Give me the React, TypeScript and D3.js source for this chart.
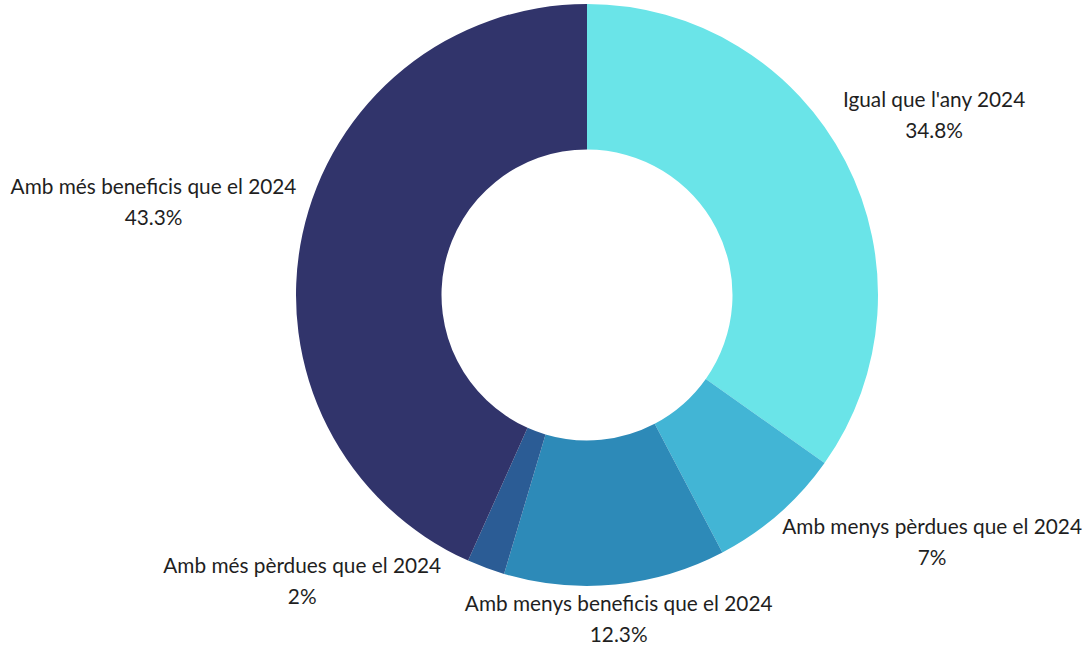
import React, { useMemo } from 'react';
import * as d3 from 'd3';

const categories = [
  "Igual que l'any 2024",
  'Amb menys pèrdues que el 2024',
  'Amb menys beneficis que el 2024',
  'Amb més pèrdues que el 2024',
  'Amb més beneficis que el 2024',
];
const values = [34.8, 7.5, 12.3, 2.1, 43.3];
const valueLabels = ['34.8%', '7%', '12.3%', '2%', '43.3%'];
const colors = ['#6ae4e8', '#42b5d5', '#2d8ab8', '#2b5c95', '#31346b'];

const W = 1084;
const H = 652;
const CX = 587;
const CY = 295;
const R = 291;
const R_IN = 145.5;
const FONT_SIZE = 20.8;
const FONT = `${FONT_SIZE}px Lato, "Noto Sans", sans-serif`;
const LINE = 31;
const BOX_H = 53;
const GAP = 7;
const PAD = 22;
const EDGE = 2;

function measure(text: string): number {
  const c = document.createElement('canvas');
  const ctx = c.getContext('2d')!;
  ctx.font = FONT;
  return ctx.measureText(text).width;
}

function boxAt(angle: number, w: number, h: number, dist: number) {
  const dx = Math.sin(angle);
  const dy = -Math.cos(angle);
  let lo = 0;
  let hi = 3000;
  for (let i = 0; i < 60; i++) {
    const mid = (lo + hi) / 2;
    const bx = mid * dx;
    const by = mid * dy;
    const nx = Math.max(Math.abs(bx) - w / 2, 0);
    const ny = Math.max(Math.abs(by) - h / 2, 0);
    if (Math.hypot(nx, ny) < dist) lo = mid;
    else hi = mid;
  }
  let x = CX + hi * dx;
  const y = CY + hi * dy;
  x = Math.min(Math.max(x, w / 2 + EDGE), W - w / 2 - EDGE);
  return { x, y, w, h };
}

type Box = { x: number; y: number; w: number; h: number };
function overlaps(a: Box, b: Box) {
  return (
    Math.abs(a.x - b.x) < (a.w + b.w) / 2 + PAD &&
    Math.abs(a.y - b.y) < (a.h + b.h) / 2 + PAD
  );
}

export default function App() {
  const data = categories.map((c, i) => ({ name: c, value: values[i], label: valueLabels[i], color: colors[i] }));
  const arcs = d3
    .pie<any>()
    .sort(null)
    .value((d) => d.value)(data);
  const arcGen = d3.arc<any>().innerRadius(R_IN).outerRadius(R);

  const labels = useMemo(() => {
    const out: (Box & { i: number; angle: number })[] = [];
    const order = d3.range(arcs.length).sort((a, b) => values[b] - values[a]);
    for (const i of order) {
      const a = arcs[i];
      const mid = (a.startAngle + a.endAngle) / 2;
      const w = Math.max(measure(categories[i]), measure(valueLabels[i]));
      let angle = mid;
      let box = boxAt(angle, w, BOX_H, R + GAP);
      for (let k = 0; k < 400; k++) {
        const hit = out.find((o) => overlaps(o, box));
        if (!hit) break;
        const dir = Math.sign(mid - hit.angle) || 1;
        angle += dir * (0.5 * Math.PI) / 180;
        box = boxAt(angle, w, BOX_H, R + GAP);
      }
      out.push({ ...box, i, angle });
    }
    return out;
  }, []);

  return (
    <svg
      width={W}
      height={H}
      style={{ position: 'absolute', left: 0, top: 0, display: 'block', background: '#fff' }}
    >
      <g transform={`translate(${CX},${CY})`}>
        {arcs.map((a, i) => (
          <path key={i} d={arcGen(a) as string} fill={a.data.color} />
        ))}
      </g>
      {labels.map((l) => (
        <text
          key={l.i}
          textAnchor="middle"
          style={{ font: FONT }}
          fill="#1f1f1f"
        >
          <tspan x={l.x} y={l.y - BOX_H / 2 + 18}>
            {categories[l.i]}
          </tspan>
          <tspan x={l.x} y={l.y - BOX_H / 2 + 18 + LINE}>
            {valueLabels[l.i]}
          </tspan>
        </text>
      ))}
    </svg>
  );
}
